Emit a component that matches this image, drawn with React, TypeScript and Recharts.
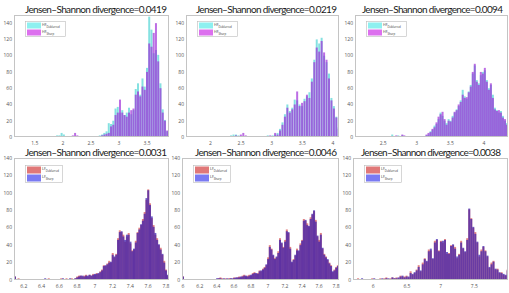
import React from "react";
import { BarChart, Bar, XAxis, YAxis } from "recharts";

// bin counts (first bin centre + bin width per panel)
const hf1Start = 1.14;
const hf1Step = 0.04;
const hf1Deblurred = [
  0, 0, 0, 0, 0, 0, 0, 0, 0, 0, 0, 0, 0, 0, 0, 0, 0,
  1, 1, 2, 2, 5, 3, 1, 1, 0, 1, 1, 1, 1, 0, 1, 1, 1, 1, 0, 1, 1, 2, 3, 5, 7, 17, 16, 20, 35, 37,
  30, 33, 27, 30, 36, 28, 33, 59, 66, 52, 72, 62, 85, 148, 132, 103, 107, 101, 66, 34, 21, 7,
];
const hf1Sharp = [
  0, 0, 0, 0, 0, 0, 0, 0, 0, 0, 0, 0, 0, 0, 0, 0, 0,
  0, 0, 0, 0, 1, 0, 1, 0, 1, 2, 5, 2, 1, 1, 1, 0, 1, 1, 1, 1, 1, 1, 2, 3, 4, 5, 13, 15, 27, 30,
  46, 30, 27, 25, 30, 33, 35, 52, 56, 50, 62, 58, 80, 115, 111, 128, 140, 93, 60, 30, 20, 8,
];

const hf2Start = 1.62;
const hf2Step = 0.04;
const hf2Deblurred = [
  0, 0, 0, 0, 0, 0, 0, 0, 0, 0, 0, 0, 0, 0, 0, 0, 0, 0,
  2, 3, 3, 2, 1, 1, 1, 0, 1, 1, 1, 0, 1, 1, 1, 2, 1, 2, 3, 5, 10, 18, 28, 40, 32, 36, 46, 45,
  40, 38, 47, 50, 55, 72, 95, 120, 115, 122, 100, 92, 78, 48, 38, 25, 12,
];
const hf2Sharp = [
  0, 0, 0, 0, 0, 0, 0, 0, 0, 0, 0, 0, 0, 0, 0, 0, 0, 0,
  0, 1, 2, 1, 3, 5, 2, 1, 0, 1, 1, 1, 1, 0, 1, 1, 2, 1, 5, 3, 8, 15, 25, 36, 30, 34, 40, 56,
  38, 42, 44, 52, 48, 68, 92, 110, 105, 118, 104, 95, 72, 45, 35, 24, 10,
];

const hf3Start = 2.095;
const hf3Step = 0.03;
const hf3Deblurred = [
  0, 0, 0, 0, 0, 0, 0, 0, 0, 0, 0, 0, 0, 0, 0, 0, 0, 0,
  3, 1, 1, 2, 1, 2, 1, 1, 0, 1, 1, 1, 0, 1, 1, 1, 1, 2, 3, 7, 9, 14, 16, 22, 30, 26, 20, 17,
  22, 20, 26, 30, 34, 38, 45, 58, 50, 47, 56, 64, 78, 88, 70, 66, 76, 80, 82, 70, 60, 64, 52,
  36, 33, 30, 32, 26, 20, 17,
];
const hf3Sharp = [
  0, 0, 0, 0, 0, 0, 0, 0, 0, 0, 0, 0, 0, 0, 0, 0, 0, 0,
  1, 1, 2, 1, 1, 3, 2, 1, 1, 1, 0, 1, 1, 1, 1, 0, 1, 3, 5, 6, 10, 12, 18, 25, 28, 31, 22, 15,
  20, 19, 24, 31, 33, 40, 43, 52, 48, 49, 55, 62, 80, 90, 68, 64, 80, 78, 85, 68, 58, 66, 48,
  34, 32, 33, 30, 24, 22, 15,
];

const lf1Start = 6.1;
const lf1Step = 0.02;
const lf1Deblurred = [
  4, 1, 2, 1, 1, 1, 0, 1, 1, 1, 1, 0, 1, 1, 1, 1, 1, 1, 1, 2, 1, 1, 1, 1, 1, 1, 2, 1, 1, 2,
  1, 1, 2, 1, 2, 4, 5, 5, 4, 5, 6, 4, 6, 5, 7, 6, 8, 7, 10, 12, 17, 16, 19, 22, 20, 31, 26,
  30, 48, 57, 55, 52, 44, 50, 54, 42, 34, 35, 45, 55, 60, 63, 70, 78, 92, 104, 88, 71, 63,
  52, 48, 40, 37, 29, 22, 12, 5,
];
const lf1Sharp = [
  4, 1, 1, 1, 1, 0, 1, 1, 0, 1, 1, 1, 1, 0, 1, 1, 1, 2, 1, 1, 1, 1, 1, 0, 1, 1, 1, 2, 1, 1,
  1, 2, 1, 1, 2, 3, 4, 5, 5, 4, 5, 5, 6, 5, 6, 7, 7, 8, 9, 11, 16, 17, 18, 20, 21, 29, 27,
  29, 46, 55, 56, 50, 46, 52, 52, 44, 33, 36, 43, 54, 58, 64, 68, 76, 94, 103, 86, 73, 61,
  54, 46, 41, 35, 30, 20, 11, 6,
];

const lf2Start = 6.0;
const lf2Step = 0.02;
const lf2Deblurred = [
  4, 1, 1, 0, 1, 1, 0, 1, 1, 1, 0, 1, 1, 1, 0, 1, 1, 1, 1, 1, 1, 2, 3, 2, 1, 2, 1, 2, 2, 1,
  3, 2, 3, 4, 3, 5, 6, 4, 5, 6, 5, 8, 9, 7, 8, 11, 10, 13, 15, 17, 26, 40, 36, 28, 25, 26,
  33, 48, 42, 38, 46, 58, 54, 38, 20, 24, 28, 36, 33, 42, 46, 70, 68, 65, 61, 72, 75, 79,
  69, 50, 46, 54, 36, 30, 27, 23, 20, 17, 9, 12, 15, 17,
];
const lf2Sharp = [
  4, 0, 1, 1, 1, 0, 1, 1, 1, 0, 1, 1, 1, 0, 1, 1, 1, 1, 0, 1, 2, 2, 2, 1, 2, 1, 2, 1, 2, 2,
  2, 3, 3, 3, 4, 4, 5, 5, 4, 5, 6, 7, 8, 8, 7, 10, 11, 12, 14, 18, 24, 38, 35, 29, 24, 27,
  31, 46, 43, 37, 44, 56, 55, 36, 21, 23, 29, 34, 34, 40, 45, 68, 69, 63, 62, 70, 76, 80,
  67, 51, 44, 52, 37, 29, 26, 24, 19, 16, 10, 11, 14, 16,
];

const lf3Start = 5.715;
const lf3Step = 0.03;
const lf3Deblurred = [
  1, 1, 2, 1, 1, 1, 1, 1, 1, 2, 1, 1, 1, 2, 1, 2, 3, 1, 2, 3, 2, 3, 2, 5, 4, 4, 5, 3, 10, 6,
  8, 12, 17, 10, 20, 25, 21, 35, 34, 24, 45, 46, 34, 45, 43, 47, 30, 31, 40, 40, 38, 25, 30,
  45, 36, 32, 48, 81, 71, 60, 55, 43, 27, 35, 38, 34, 27, 14, 20, 22, 12, 13, 8, 9, 6, 5, 12,
];
const lf3Sharp = [
  1, 0, 1, 1, 2, 1, 1, 0, 1, 1, 2, 1, 1, 1, 2, 1, 2, 2, 1, 3, 2, 2, 3, 4, 5, 3, 4, 4, 8, 7,
  9, 11, 15, 11, 18, 24, 22, 33, 36, 25, 43, 47, 33, 44, 45, 46, 32, 30, 39, 41, 36, 27, 29,
  43, 37, 33, 46, 82, 70, 61, 53, 44, 29, 33, 39, 33, 28, 15, 18, 21, 13, 12, 9, 8, 7, 6, 11,
];

const divergences = ["0.0419", "0.0219", "0.0094", "0.0031", "0.0046", "0.0038"];
const yTicks = [0, 20, 40, 60, 80, 100, 120, 140];

const hfColors = { a: "#20c8c8", aOp: 0.55, b: "#a030d8", bOp: 0.7, keyA: "#8ef0f0", keyB: "#dc70ee" };
const lfColors = { a: "#d03030", aOp: 0.6, b: "#3a20b0", bOp: 0.72, keyA: "#e07878", keyB: "#7a7af2" };

type PanelDef = {
  left: number; top: number; w: number; h: number;
  start: number; step: number; a: number[]; b: number[];
  domain: [number, number]; xTicks: number[]; yMax: number;
  kind: "HF" | "LF"; title: string; titleX: number; titleW: number; titleY: number;
};

const panels: PanelDef[] = [
  { left: 14, top: 15, w: 155, h: 122, start: hf1Start, step: hf1Step, a: hf1Deblurred, b: hf1Sharp,
    domain: [1.13, 3.89], xTicks: [1.5, 2, 2.5, 3, 3.5], yMax: 150, kind: "HF",
    title: divergences[0], titleX: 25, titleW: 142, titleY: 12.5 },
  { left: 186, top: 15, w: 153, h: 122, start: hf2Start, step: hf2Step, a: hf2Deblurred, b: hf2Sharp,
    domain: [1.6, 4.1], xTicks: [2, 2.5, 3, 3.5, 4], yMax: 150, kind: "HF",
    title: divergences[1], titleX: 196, titleW: 141, titleY: 12.5 },
  { left: 355, top: 15, w: 153, h: 122, start: hf3Start, step: hf3Step, a: hf3Deblurred, b: hf3Sharp,
    domain: [2.08, 4.36], xTicks: [2.5, 3, 3.5, 4], yMax: 150, kind: "HF",
    title: divergences[2], titleX: 362, titleW: 141, titleY: 12.5 },
  { left: 14, top: 158, w: 155, h: 122, start: lf1Start, step: lf1Step, a: lf1Deblurred, b: lf1Sharp,
    domain: [6.09, 7.835], xTicks: [6.2, 6.4, 6.6, 6.8, 7, 7.2, 7.4, 7.6, 7.8], yMax: 140, kind: "LF",
    title: divergences[3], titleX: 25, titleW: 142, titleY: 156 },
  { left: 182, top: 158, w: 157, h: 122, start: lf2Start, step: lf2Step, a: lf2Deblurred, b: lf2Sharp,
    domain: [5.99, 7.835], xTicks: [6, 6.2, 6.4, 6.6, 6.8, 7, 7.2, 7.4, 7.6, 7.8], yMax: 140, kind: "LF",
    title: divergences[4], titleX: 195, titleW: 142, titleY: 156 },
  { left: 353, top: 158, w: 155, h: 122, start: lf3Start, step: lf3Step, a: lf3Deblurred, b: lf3Sharp,
    domain: [5.7, 8.0], xTicks: [6, 6.5, 7, 7.5], yMax: 140, kind: "LF",
    title: divergences[5], titleX: 361, titleW: 140, titleY: 156 },
];

const tickStyle = { fontSize: 5, fill: "#555", fontFamily: "Open Sans" };

function Panel({ p }: { p: PanelDef }) {
  const c = p.kind === "HF" ? hfColors : lfColors;
  const rows = p.a.map((v, i) => ({ x: +(p.start + i * p.step).toFixed(4), a: v, b: p.b[i] }));
  return (
    <div style={{ position: "absolute", left: p.left - 14, top: p.top - 2 }}>
      <BarChart width={p.w + 16} height={p.h + 14} data={rows}
        margin={{ top: 2, right: 2, left: 0, bottom: 0 }} barCategoryGap={0} barGap={0}>
        <XAxis xAxisId="a" dataKey="x" type="number" domain={p.domain} allowDataOverflow
          ticks={p.xTicks} interval={0} tick={tickStyle} tickLine={false} axisLine={false}
          tickSize={0} tickMargin={4} height={12} />
        <XAxis xAxisId="b" dataKey="x" type="number" domain={p.domain} allowDataOverflow hide />
        <YAxis domain={[0, p.yMax]} ticks={yTicks} interval={0} tick={tickStyle} tickLine={false}
          axisLine={false} tickSize={0} tickMargin={2} width={14} allowDataOverflow />
        <Bar xAxisId="a" dataKey="a" fill={c.a} fillOpacity={c.aOp} isAnimationActive={false} />
        <Bar xAxisId="b" dataKey="b" fill={c.b} fillOpacity={c.bOp} isAnimationActive={false} />
      </BarChart>
    </div>
  );
}

function Overlay() {
  return (
    <svg width={509} height={293} style={{ position: "absolute", left: 0, top: 0, pointerEvents: "none" }}>
      {panels.map((p, i) => {
        const c = p.kind === "HF" ? hfColors : lfColors;
        const lx = p.left + 11;
        const ly = p.top + (p.kind === "HF" ? 6 : 7);
        const lh = p.kind === "HF" ? 15 : 17;
        const lw = p.kind === "HF" ? 40 : 37;
        const sh = (lh - 3) / 2;
        return (
          <g key={i}>
            <rect x={p.left + 0.5} y={p.top + 0.5} width={p.w - 1} height={p.h - 1}
              fill="none" stroke="#c4c4c4" strokeWidth={1} />
            <text x={p.titleX} y={p.titleY} textLength={p.titleW} lengthAdjust="spacing"
              fontFamily="Lato" fontSize={10} fill="#1a1a1a">
              {"Jensen\u2013Shannon divergence=" + p.title}
            </text>
            <rect x={lx + 0.5} y={ly + 0.5} width={lw} height={lh} fill="#fff" stroke="#bbb" strokeWidth={0.6} />
            <rect x={lx + 2} y={ly + 1.5} width={14} height={sh} fill={c.keyA} />
            <rect x={lx + 2} y={ly + 2.5 + sh} width={14} height={sh} fill={c.keyB} />
            <text x={lx + 17} y={ly + 5} fontFamily="Open Sans" fontSize={3.6} fill="#333">
              {p.kind}
              <tspan dy={1.6} fontSize={2.8}>Deblurred</tspan>
            </text>
            <text x={lx + 17} y={ly + 6 + sh} fontFamily="Open Sans" fontSize={3.6} fill="#333">
              {p.kind}
              <tspan dy={1.6} fontSize={2.8}>Sharp</tspan>
            </text>
          </g>
        );
      })}
    </svg>
  );
}

export default function App() {
  return (
    <div style={{ position: "absolute", left: 0, top: 0, width: 509, height: 293, background: "#fff", overflow: "hidden" }}>
      {panels.map((p, i) => (
        <Panel key={i} p={p} />
      ))}
      <Overlay />
    </div>
  );
}
